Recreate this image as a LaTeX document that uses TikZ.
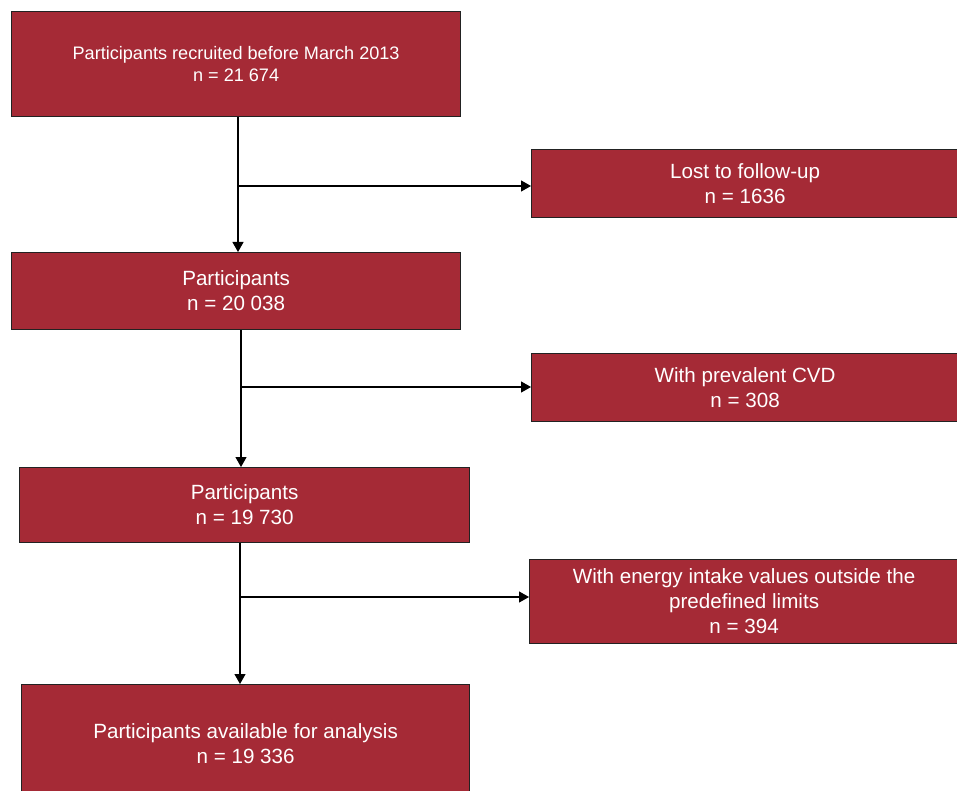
\documentclass[tikz,border=0pt]{standalone}
\usepackage{fontspec}
\setmainfont{Liberation Sans}
\usetikzlibrary{arrows.meta}
\definecolor{boxred}{HTML}{A52A36}
\definecolor{edge}{HTML}{222222}
\begin{document}
\begin{tikzpicture}[x=1pt,y=1pt,
  box/.style={draw=edge, line width=1.2pt, fill=boxred, text=white, align=center, inner sep=0pt, anchor=north west},
  big/.style={font=\fontsize{20.6}{25}\selectfont},
  small/.style={font=\fontsize{18.1}{22}\selectfont},
  arr/.style={draw=black, line width=1.2pt, -{Triangle[width=11pt,length=10pt]}}]
\useasboundingbox (0,0) rectangle (957,-791);
\fill[white] (0,0) rectangle (957,-791);
\node[box, small, minimum width=449pt, minimum height=105pt] (b1) at (11,-11) {Participants recruited before March 2013\\n = 21 674};
\node[box, big, minimum width=427pt, minimum height=68pt] (b2) at (531,-149) {Lost to follow-up\\n = 1636};
\node[box, big, minimum width=449pt, minimum height=77pt] (b3) at (11,-252) {Participants\\n = 20 038};
\node[box, big, minimum width=427pt, minimum height=68pt] (b4) at (531,-353) {With prevalent CVD\\n = 308};
\node[box, big, minimum width=450pt, minimum height=75pt] (b5) at (19,-467) {Participants\\n = 19 730};
\node[box, big, minimum width=429pt, minimum height=84pt] (b6) at (529,-559) {With energy intake values outside the\\predefined limits\\n = 394};
\node[box, big, minimum width=448pt, minimum height=118pt] (b7) at (21,-684) {Participants available for analysis\\n = 19 336};
\coordinate (j1) at (238,-186);
\coordinate (j2) at (241,-387);
\coordinate (j3) at (240,-597);
\draw[arr] (b1.south -| j1) -- (b3.north -| j1);
\draw[arr] (j1) -- (b2.west |- j1);
\draw[arr] (b3.south -| j2) -- (b5.north -| j2);
\draw[arr] (j2) -- (b4.west |- j2);
\draw[arr] (b5.south -| j3) -- (b7.north -| j3);
\draw[arr] (j3) -- (b6.west |- j3);
\end{tikzpicture}
\end{document}
